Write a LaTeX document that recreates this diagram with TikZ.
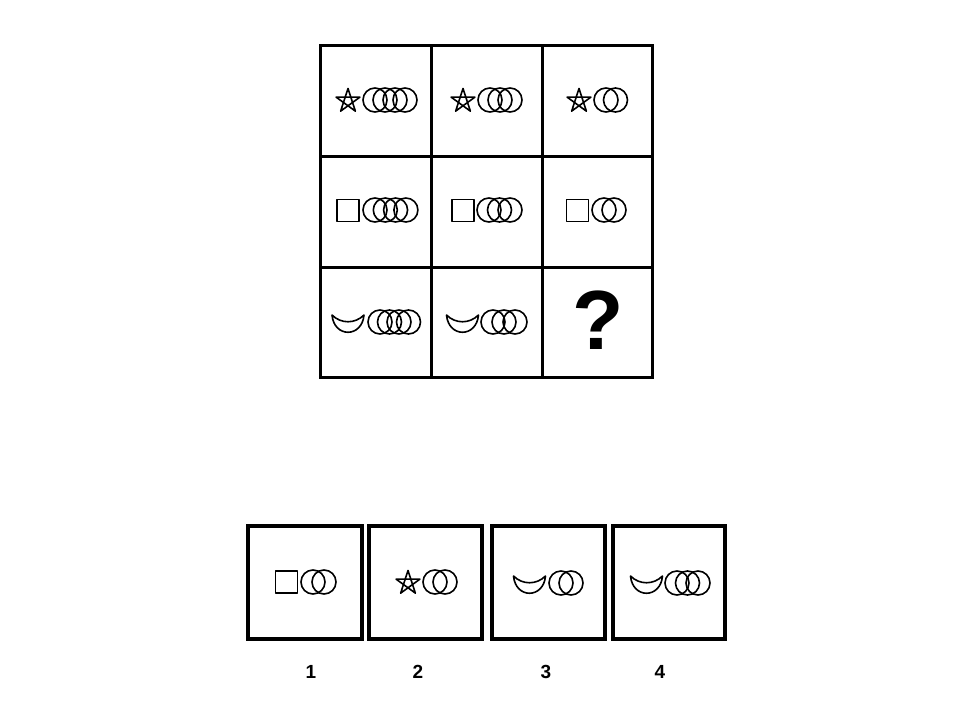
\documentclass[tikz,border=0pt]{standalone}
\usepackage{fontspec}
\setmainfont{Liberation Sans}
\newcommand\ringset[4]{% first centre x, y, count, spacing
  \foreach \k in {1,...,#3}{\draw[fig] ({#1+(\k-1)*#4},#2) circle[radius=12];}}
\newcommand\pstar[2]{%
  \draw[fig,shift={(#1,#2)}] (270:12.5) -- (54:12.5) -- (198:12.5) -- (342:12.5) -- (126:12.5) -- cycle;}
\newcommand\sqfig[2]{%
  \draw[fig] ({#1-11},{#2-11}) rectangle ({#1+11},{#2+11});}
\newcommand\cres[2]{% centre x, top y
  \draw[fig,shift={(#1,#2)}] (-16,-1) .. controls (-7,8) and (7,8) .. (16,-1)
     .. controls (14,22) and (-14,22) .. cycle;}
\tikzset{
  fig/.style={line width=1.6pt,line join=round},
  frame/.style={line width=3pt},
  aframe/.style={line width=3.5pt},
  qmark/.style={font=\bfseries\fontsize{84}{84}\selectfont,inner sep=0pt},
  lbl/.style={font=\bfseries\fontsize{19}{19}\selectfont,inner sep=0pt}
}
\begin{document}
\begin{tikzpicture}[x=1pt,y=-1pt]
\useasboundingbox (0,0) rectangle (960,720);
% grid
\draw[frame] (320,45) rectangle (652,377);
\draw[frame] (431,45) -- (431,377) (542,45) -- (542,377);
\draw[frame] (320,156) -- (652,156) (320,267) -- (652,267);
% row 1
\pstar{348}{101}\ringset{375}{100}{4}{10}
\pstar{463}{101}\ringset{490}{100}{3}{10}
\pstar{579}{101}\ringset{606}{100}{2}{9.5}
% row 2
\sqfig{348}{210.5}\ringset{375}{210}{4}{10.3}
\sqfig{463}{210.5}\ringset{489}{210}{3}{10.5}
\sqfig{577.5}{210.5}\ringset{604}{210}{2}{10}
% row 3
\cres{348}{316}\ringset{380}{322}{4}{9.5}
\cres{462.5}{316}\ringset{493}{322}{3}{11}
\node[qmark] (q) at (598,320) {?};
% answer boxes
\draw[aframe] (248,526) rectangle (362,639);
\draw[aframe] (369,526) rectangle (482,639);
\draw[aframe] (492,526) rectangle (605,639);
\draw[aframe] (613,526) rectangle (725,639);
\sqfig{286.5}{582}\ringset{313}{582}{2}{11}
\pstar{408}{583}\ringset{435}{582}{2}{10}
\cres{529.5}{577}\ringset{561}{583}{2}{10}
\cres{646.5}{577}\ringset{677}{583}{3}{10.5}
% labels
\node[lbl] (l1) at (311,671.5) {1};
\node[lbl] (l2) at (418,671.5) {2};
\node[lbl] (l3) at (546,671.5) {3};
\node[lbl] (l4) at (660,671.5) {4};
\end{tikzpicture}
\end{document}
